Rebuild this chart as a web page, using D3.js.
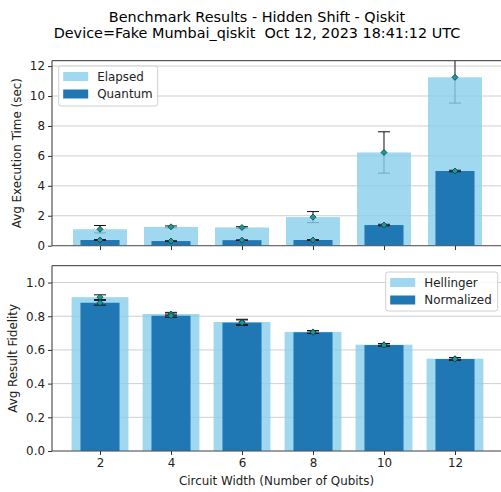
<!DOCTYPE html>
<html><head><meta charset="utf-8">
<script src="https://cdn.jsdelivr.net/npm/d3@7"></script>
<style>body{margin:0;background:#fff}svg{display:block;font-family:"DejaVu Sans",sans-serif}</style>
</head><body><svg id="c" width="501" height="492"></svg>
<script>
const titleLines = ["Benchmark Results - Hidden Shift - Qiskit", "Device=Fake Mumbai_qiskit  Oct 12, 2023 18:41:12 UTC"];
const qubits = [2, 4, 6, 8, 10, 12];
const elapsed = [1.1, 1.26, 1.22, 1.91, 6.23, 11.25];
const elapsedErr = [0.25, 0.06, 0.05, 0.37, 1.38, 1.72];
const quantum = [0.38, 0.31, 0.37, 0.38, 1.38, 4.99];
const quantumErr = [0.03, 0.02, 0.02, 0.03, 0.05, 0.05];
const hellinger = [0.913, 0.813, 0.766, 0.707, 0.631, 0.548];
const hellingerErr = [0.014, 0.01, 0.016, 0.008, 0.007, 0.007];
const normalized = [0.88, 0.803, 0.762, 0.705, 0.629, 0.546];
const normalizedErr = [0.014, 0.01, 0.016, 0.008, 0.007, 0.007];
const topTicks = [0, 2, 4, 6, 8, 10, 12];
const botTicks = [0, 0.2, 0.4, 0.6, 0.8, 1.0];

const svg = d3.select("#c");
const L = 52, R = 501;
const x = d3.scaleLinear().domain([0.648, 13.296]).range([L, R]);
const yTop = d3.scaleLinear().domain([0, 12.36]).range([245.7, 60.7]);
const yBot = d3.scaleLinear().domain([0, 1.10]).range([451, 265.7]);
const light = "rgba(135,206,235,0.8)", dark = "#1f77b4", mk = "#139c9f";
const fs = 11.9;

svg.append("g").selectAll("text").data(titleLines).join("text")
  .attr("x", 257).attr("y", (d, i) => 21.6 + i * 16.7).attr("text-anchor", "middle")
  .style("white-space", "pre").attr("xml:space", "preserve")
  .attr("font-size", 14.4).attr("fill", "#000").text(d => d);

function panel(y, ticks, fmt, label, labelX, series, legendBox) {
  const g = svg.append("g");
  const [y0, y1] = y.range();
  g.append("g").selectAll("line").data(ticks).join("line")
    .attr("x1", L).attr("x2", R).attr("y1", d => y(d)).attr("y2", d => y(d))
    .attr("stroke", "#cfcfcf").attr("stroke-width", 1);
  const ay = g.append("g").attr("transform", `translate(${L},0)`)
    .call(d3.axisLeft(y).tickValues(ticks).tickFormat(fmt).tickSize(4).tickPadding(3));
  ay.select(".domain").remove();
  ay.selectAll("text").attr("font-size", fs).attr("font-family", "DejaVu Sans").attr("fill", "#222");
  ay.selectAll("line").attr("stroke", "#333");
  g.append("text").attr("transform", `translate(${labelX},${(y0 + y1) / 2}) rotate(-90)`)
    .attr("text-anchor", "middle").attr("dy", "0.35em").attr("font-size", fs).attr("fill", "#222").text(label);
  const clipId = "clip" + Math.round(y1);
  g.append("clipPath").attr("id", clipId).append("rect").attr("x", L).attr("y", y1).attr("width", R - L).attr("height", y0 - y1);
  const plot = g.append("g").attr("clip-path", `url(#${clipId})`);
  series.forEach(s => s.draw(plot, y));
  g.append("line").attr("x1", L).attr("x2", R).attr("y1", y1).attr("y2", y1).attr("stroke", "#333");
  g.append("line").attr("x1", L).attr("x2", R).attr("y1", y0).attr("y2", y0).attr("stroke", "#555");
  g.append("line").attr("x1", L).attr("x2", L).attr("y1", y1).attr("y2", y0).attr("stroke", "#333");
  const lb = legendBox;
  const lg = g.append("g");
  lg.append("rect").attr("x", lb.x).attr("y", lb.y).attr("width", lb.w).attr("height", lb.h)
    .attr("rx", 2.5).attr("fill", "rgba(255,255,255,0.85)").attr("stroke", "#d0d0d0");
  lb.items.forEach((it, i) => {
    const cy = lb.y + 10.5 + i * 17.5;
    lg.append("rect").attr("x", lb.x + 4.5).attr("y", cy - 4.5).attr("width", 25).attr("height", 9).attr("fill", it.c);
    lg.append("text").attr("x", lb.x + lb.tx).attr("y", cy).attr("dy", "0.35em").attr("font-size", fs).attr("fill", "#222").text(it.t);
  });
  return g;
}

function bars(plot, y, vals, w, color) {
  plot.append("g").selectAll("rect").data(vals).join("rect")
    .attr("x", (d, i) => x(qubits[i] - w / 2)).attr("width", x(w) - x(0))
    .attr("y", d => y(d)).attr("height", d => y(0) - y(d)).attr("fill", color);
}
function errLines(plot, y, vals, errs) {
  const g = plot.append("g").attr("stroke", "#111").attr("stroke-width", 1);
  vals.forEach((v, i) => {
    const cx = x(qubits[i]);
    g.append("line").attr("x1", cx).attr("x2", cx).attr("y1", y(v - errs[i])).attr("y2", y(v + errs[i]));
    [v - errs[i], v + errs[i]].forEach(e => g.append("line").attr("x1", cx - 6).attr("x2", cx + 6).attr("y1", y(e)).attr("y2", y(e)));
  });
}
function markers(plot, y, vals) {
  plot.append("g").selectAll("path").data(vals).join("path")
    .attr("d", "M0,-3L3,0L0,3L-3,0Z")
    .attr("transform", (d, i) => `translate(${x(qubits[i])},${y(d)})`)
    .attr("fill", mk).attr("stroke", "#1a3a3a").attr("stroke-width", 0.8);
}

panel(yTop, topTicks, d3.format("d"), "Avg Execution Time (sec)", 17, [
  { draw: (p, y) => { errLines(p, y, elapsed, elapsedErr); bars(p, y, elapsed, 1.52, light); bars(p, y, quantum, 1.1, dark); errLines(p, y, quantum, quantumErr); markers(p, y, elapsed); markers(p, y, quantum); } }
], { x: 58.7, y: 66, w: 99, h: 40, tx: 38.5, items: [{ t: "Elapsed", c: light }, { t: "Quantum", c: dark }] });

panel(yBot, botTicks, d3.format(".1f"), "Avg Result Fidelity", 13, [
  { draw: (p, y) => { bars(p, y, hellinger, 1.6, light); bars(p, y, normalized, 1.1, dark); errLines(p, y, hellinger, hellingerErr); errLines(p, y, normalized, normalizedErr); markers(p, y, hellinger); markers(p, y, normalized); } }
], { x: 385.7, y: 272, w: 112, h: 39, tx: 38.6, items: [{ t: "Hellinger", c: light }, { t: "Normalized", c: dark }] });

const ax = svg.append("g").attr("transform", "translate(0,451)")
  .call(d3.axisBottom(x).tickValues(qubits).tickFormat(d3.format("d")).tickSize(4).tickPadding(4));
ax.select(".domain").remove();
ax.selectAll("text").attr("font-size", fs).attr("font-family", "DejaVu Sans").attr("fill", "#222");
ax.selectAll("line").attr("stroke", "#333");
svg.append("g").attr("transform", "translate(0,246)")
  .call(d3.axisBottom(x).tickValues(qubits).tickFormat("").tickSize(4))
  .call(a => a.select(".domain").remove()).selectAll("line").attr("stroke", "#333");
svg.append("text").attr("x", 276.5).attr("y", 485).attr("text-anchor", "middle").attr("font-size", fs).attr("fill", "#222")
  .text("Circuit Width (Number of Qubits)");
</script></body></html>
